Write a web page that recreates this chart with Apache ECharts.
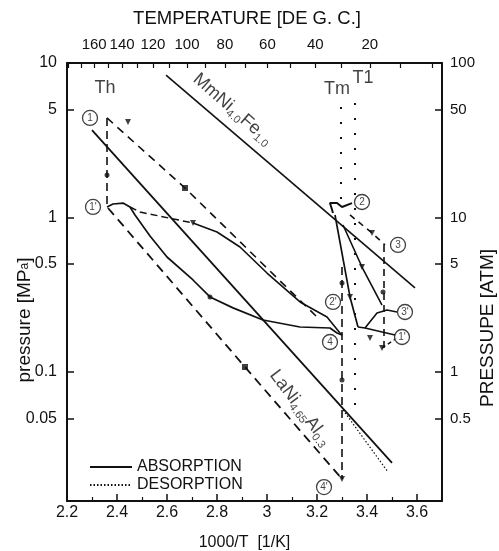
<!DOCTYPE html>
<html>
<head>
<meta charset="utf-8">
<script src="https://cdn.jsdelivr.net/npm/echarts@6/dist/echarts.min.js"></script>
<style>
html,body{margin:0;padding:0;background:#fff;}
#chart{width:499px;height:551px;}
</style>
</head>
<body>
<div id="chart"></div>
<script>
// tick values
var pressTicks = [10, 5, 1, 0.5, 0.1, 0.05];          // MPa, left
var atmTicks = [100, 50, 10, 5, 1, 0.5];              // atm, right
var xLabels = [2.2, 2.4, 2.6, 2.8, 3.0, 3.2, 3.4, 3.6];
var tempLabels = [160, 140, 120, 100, 80, 60, 40, 20];
var tempTicks = [180, 170, 160, 150, 140, 130, 120, 110, 100, 90, 80, 70, 60, 50, 40, 30, 20, 10, 0];

// equilibrium lines [1000/T, MPa]
var mmniLine = [[2.596, 8.36], [3.592, 0.35]];
var laniLine = [[2.30, 3.68], [3.50, 0.0258]];
var laniDes = [[3.304, 0.0568], [3.484, 0.0225]];

// temperature levels (dotted)
var tmLine = [[3.296, 5.19], [3.296, 1.205]];
var t1Line = [[3.352, 5.51], [3.352, 0.0551]];

// cycle paths, dashed
var thLine = [[2.36, 4.41], [2.36, 1.17]];
var upperDash = [[2.36, 4.41], [2.672, 1.552], [3.204, 0.2237]];
var lowerDash = [[2.364, 1.152], [2.912, 0.1077], [3.30, 0.0203]];
var tmDash = [[3.30, 0.478], [3.30, 0.0203]];
var dash23 = [[3.332, 1.038], [3.42, 0.794], [3.472, 0.664]];
var vert3 = [[3.468, 0.664], [3.468, 0.143]];
var dash3b = [[3.46, 0.143], [3.52, 0.166]];
var curveEdash = [[2.452, 1.17], [2.492, 1.085], [2.704, 0.921]];

// absorption curves, solid
var curveC = [[2.36, 1.17], [2.384, 1.223], [2.424, 1.24], [2.452, 1.17], [2.472, 1.038], [2.532, 0.759],
  [2.60, 0.555], [2.704, 0.394], [2.772, 0.306], [2.864, 0.260], [2.984, 0.217], [3.132, 0.1955],
  [3.252, 0.1926], [3.28, 0.1788], [3.30, 0.1736]];
var curveE = [[2.704, 0.921], [2.80, 0.806], [2.892, 0.644], [3.00, 0.437], [3.132, 0.284],
  [3.24, 0.227], [3.292, 0.1788], [3.30, 0.1736]];
var hook2 = [[3.264, 1.069], [3.252, 1.24], [3.28, 1.24], [3.30, 1.17], [3.34, 1.24]];
var curveL1 = [[3.272, 1.038], [3.332, 0.306], [3.364, 0.1955]];
var curveL2 = [[3.304, 0.894], [3.38, 0.478], [3.46, 0.271]];
var curveL3 = [[3.364, 0.1955], [3.392, 0.1926], [3.44, 0.241], [3.48, 0.252], [3.52, 0.2445]];
var curveL4 = [[3.392, 0.1926], [3.512, 0.1736]];

// markers
var dotPts = [[2.36, 1.884], [2.772, 0.306], [3.30, 0.377], [3.30, 0.0887], [3.464, 0.330]];
var squarePts = [[2.672, 1.552], [2.912, 0.1077]];
var arrowPts = [[2.444, 4.15], [2.704, 0.921], [3.332, 0.306], [3.38, 0.478], [3.42, 0.794],
  [3.412, 0.166], [3.46, 0.143], [3.30, 0.0203]];

// state points
var stateNames = ['1', "1'", '2', '3', "2'", "3'", "1'", '4', "4'"];
var statePts = [[2.292, 4.41], [2.304, 1.17], [3.38, 1.26], [3.524, 0.664], [3.264, 0.284],
  [3.552, 0.2445], [3.54, 0.1684], [3.252, 0.1563], [3.228, 0.018]];

var FONT = "'Liberation Sans', Arial, sans-serif";
var BLACK = '#111';

function inv(t) { return 1000 / (t + 273.15); }

function path(name, data, type, width) {
  return {
    name: name, type: 'line', data: data, symbol: 'none', silent: true,
    itemStyle: { color: BLACK },
    lineStyle: { color: BLACK, width: width || 1.6, type: type || 'solid' },
    z: 2
  };
}

var sub = { fontSize: 11, verticalAlign: 'top', padding: [9, 0, 0, 0], fontFamily: FONT, color: BLACK };
var big = { fontSize: 18, verticalAlign: 'top', fontFamily: FONT, color: BLACK };

var chart = echarts.init(document.getElementById('chart'));

var series = [
  path('DESORPTION', laniDes, [1.5, 2], 1.2),
  path('ABSORPTION', mmniLine, 'solid', 1.6),
  path('ABSORPTION', laniLine, 'solid', 1.8),
  path('DESORPTION', tmLine, [2, 13], 2),
  path('DESORPTION', t1Line, [2, 13], 2),
  path('cycle', thLine, [8, 5], 1.6),
  path('cycle', upperDash, [8, 6], 1.6),
  path('cycle', lowerDash, [9, 6], 1.8),
  path('cycle', tmDash, [8, 5], 1.6),
  path('cycle', dash23, [6, 5], 1.6),
  path('cycle', vert3, [7, 5], 1.6),
  path('cycle', dash3b, [4, 3], 1.4),
  path('cycle', curveEdash, [7, 4], 1.5),
  path('ABSORPTION', curveC, 'solid', 1.7),
  path('ABSORPTION', curveE, 'solid', 1.6),
  path('ABSORPTION', hook2, 'solid', 2),
  path('ABSORPTION', curveL1, 'solid', 1.7),
  path('ABSORPTION', curveL2, 'solid', 1.6),
  path('ABSORPTION', curveL3, 'solid', 1.6),
  path('ABSORPTION', curveL4, 'solid', 1.6),
  {
    type: 'scatter', data: dotPts, symbol: 'circle', symbolSize: 5, silent: true,
    itemStyle: { color: BLACK }, z: 3
  },
  {
    type: 'scatter', data: squarePts, symbol: 'rect', symbolSize: 6, silent: true,
    itemStyle: { color: BLACK }, z: 3
  },
  {
    type: 'scatter', data: arrowPts, symbol: 'triangle', symbolSize: 6, symbolRotate: 180, silent: true,
    itemStyle: { color: BLACK }, z: 3
  },
  {
    type: 'scatter', silent: true, symbol: 'circle', symbolSize: 15, z: 4,
    data: statePts.map(function (p, i) { return { value: p, name: stateNames[i] }; }),
    itemStyle: { color: '#fff', borderColor: BLACK, borderWidth: 1.3 },
    label: {
      show: true, position: 'inside', formatter: '{b}',
      fontSize: 10, fontFamily: FONT, color: BLACK
    }
  },
  {
    type: 'scatter', silent: true, symbolSize: 1, z: 5,
    itemStyle: { color: 'rgba(0,0,0,0)' },
    label: { show: true, position: 'inside', fontFamily: FONT, fontSize: 18, color: BLACK },
    data: [
      { value: [2.352, 6.89], label: { formatter: 'Th' } },
      { value: [3.28, 6.79], label: { formatter: 'Tm' } },
      { value: [3.384, 8.0], label: { formatter: 'T1' } },
      { value: [2.86, 4.97], label: { rotate: -41, formatter: '{n|MmNi}{s|4.0}{n|Fe}{s|1.0}', rich: { n: big, s: sub } } },
      { value: [3.13, 0.058], label: { rotate: -53, formatter: '{n|LaNi}{s|4.65}{n|Al}{s|0.3}', rich: { n: big, s: sub } } }
    ]
  }
];

var lineStyle = { color: BLACK, width: 2 };

function lbl(size, extra) {
  return Object.assign({ fontFamily: FONT, fontSize: size, color: BLACK, hideOverlap: false }, extra);
}

chart.setOption({
  animation: false,
  backgroundColor: '#fff',
  textStyle: { fontFamily: FONT },
  grid: { left: 67, right: 57, top: 63, bottom: 50, outerBoundsMode: 'none' },
  legend: {
    left: 84, top: 454, orient: 'vertical', itemWidth: 42, itemHeight: 10, itemGap: 2,
    selectedMode: false, data: ['ABSORPTION', 'DESORPTION'],
    itemStyle: { opacity: 0 },
    textStyle: { fontFamily: FONT, fontSize: 16, color: BLACK }
  },
  xAxis: [
    {
      type: 'value', min: 2.2, max: 3.7, interval: 0.2, position: 'bottom',
      name: '1000/T  [1/K]', nameLocation: 'middle', nameGap: 34, nameMoveOverlap: false,
      nameTextStyle: { fontFamily: FONT, fontSize: 16, color: BLACK, padding: [0, 20, 0, 0] },
      axisLine: { lineStyle: lineStyle },
      axisTick: { inside: true, length: 7, lineStyle: { color: BLACK, width: 1.5 }, customValues: xLabels },
      minorTick: { show: true, splitNumber: 2, length: 4, lineStyle: { color: BLACK, width: 1.2 } },
      axisLabel: lbl(16, { margin: 4, customValues: xLabels }),
      splitLine: { show: false }
    },
    {
      type: 'value', min: 2.2, max: 3.7, position: 'top',
      name: 'TEMPERATURE [DE G. C.]', nameLocation: 'middle', nameGap: 35, nameMoveOverlap: false,
      nameTextStyle: { fontFamily: FONT, fontSize: 18.5, color: BLACK, padding: [0, 15, 0, 0] },
      axisLine: { lineStyle: lineStyle },
      axisTick: { inside: true, length: 5, lineStyle: { color: BLACK, width: 1.2 }, customValues: tempTicks.map(inv) },
      axisLabel: lbl(15, {
        margin: 11, customValues: tempLabels.map(inv),
        formatter: function (v) { return Math.round(1000 / v - 273.15); }
      }),
      splitLine: { show: false }
    }
  ],
  yAxis: [
    {
      type: 'log', logBase: 10, min: 0.01462, max: 10, position: 'left',
      name: 'pressure [MP{s|a}]', nameLocation: 'middle', nameGap: 33, nameMoveOverlap: false,
      nameTextStyle: {
        fontFamily: FONT, fontSize: 19, color: BLACK, padding: [0, 76, 0, 0],
        rich: { s: { fontSize: 12, fontFamily: FONT, color: BLACK } }
      },
      axisLine: { lineStyle: lineStyle },
      axisTick: { inside: true, length: 7, lineStyle: { color: BLACK, width: 1.5 }, customValues: pressTicks },
      axisLabel: lbl(16, {
        margin: 10, customValues: pressTicks,
        formatter: function (v) { return String(+(+v).toPrecision(3)); }
      }),
      splitLine: { show: false }
    },
    {
      type: 'log', logBase: 10, min: 0.1462, max: 100, position: 'right',
      name: 'PRESSUPE [ATM]', nameLocation: 'middle', nameGap: 36, nameMoveOverlap: false,
      nameTextStyle: { fontFamily: FONT, fontSize: 19, color: BLACK, padding: [0, 92, 0, 0] },
      axisLine: { lineStyle: lineStyle },
      axisTick: { inside: true, length: 7, lineStyle: { color: BLACK, width: 1.5 }, customValues: atmTicks },
      axisLabel: lbl(15, {
        margin: 8, customValues: atmTicks,
        formatter: function (v) { return String(+(+v).toPrecision(3)); }
      }),
      splitLine: { show: false }
    }
  ],
  series: series
});
</script>
</body>
</html>
